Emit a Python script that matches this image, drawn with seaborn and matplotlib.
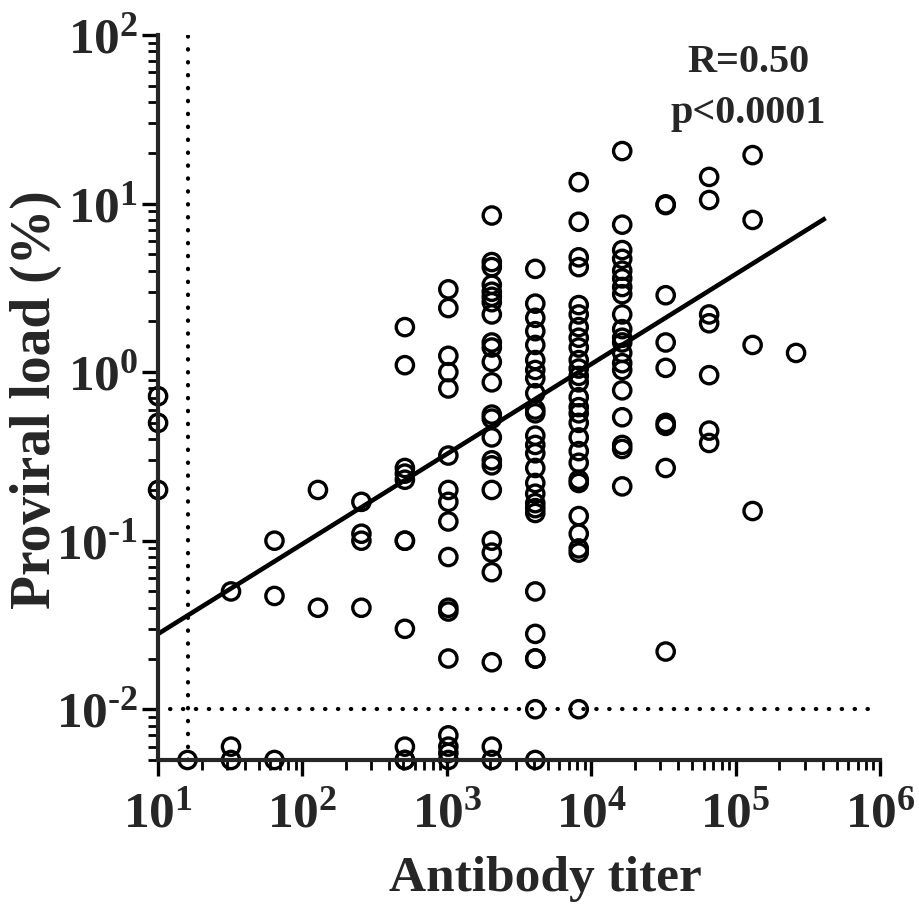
import numpy as np
import pandas as pd
import matplotlib
matplotlib.use("Agg")
import matplotlib.pyplot as plt
import seaborn as sns
from matplotlib.ticker import LogLocator, FixedFormatter, FixedLocator, NullFormatter

# antibody titers (x) and the proviral loads (%) read for each titer
titers = [10, 16, 32, 64, 128, 256, 512, 1024, 2048, 4096, 8192,
          16384, 32768, 65536, 131072, 262144]

load_10 = [0.72, 0.5, 0.2]
load_16 = [0.005]
load_32 = [0.05, 0.006, 0.005]
load_64 = [0.1, 0.047, 0.005]
load_128 = [0.2, 0.04]
load_256 = [0.17, 0.11, 0.1, 0.04]
load_512 = [1.85, 1.1, 0.27, 0.25, 0.23, 0.1, 0.1, 0.03, 0.006, 0.005, 0.005]
load_1024 = [3.1, 2.4, 1.25, 1.0, 0.8, 0.32, 0.2, 0.17, 0.13, 0.08, 0.04, 0.038,
             0.02, 0.007, 0.006, 0.0055, 0.005]
load_2048 = [8.5, 4.5, 4.2, 3.3, 3.0, 2.8, 2.6, 2.2, 1.5, 1.4, 1.15, 0.87, 0.56,
             0.53, 0.41, 0.3, 0.28, 0.2, 0.1, 0.085, 0.065, 0.019, 0.006, 0.005]
load_4096 = [4.1, 2.55, 2.1, 1.75, 1.45, 1.18, 1.03, 0.92, 0.75, 0.6, 0.57, 0.42,
             0.37, 0.33, 0.27, 0.22, 0.19, 0.167, 0.156, 0.146, 0.05, 0.028,
             0.02, 0.02, 0.01, 0.005]
load_8192 = [13.4, 7.8, 4.8, 4.2, 2.5, 2.2, 1.85, 1.6, 1.4, 1.18, 1.05, 0.95,
             0.87, 0.71, 0.62, 0.57, 0.5, 0.41, 0.34, 0.29, 0.23, 0.22, 0.14,
             0.11, 0.09, 0.085, 0.01]
load_16384 = [20.5, 7.5, 5.3, 4.7, 4.0, 3.6, 3.2, 2.9, 2.2, 1.8, 1.6, 1.5, 1.3,
              1.13, 1.03, 0.78, 0.54, 0.37, 0.35, 0.21]
load_32768 = [9.8, 9.9, 2.86, 1.5, 1.06, 0.5, 0.48, 0.27, 0.022]
load_65536 = [14.4, 10.5, 2.2, 1.95, 0.96, 0.45, 0.38]
load_131072 = [19.4, 8.0, 1.45, 0.15]
load_262144 = [1.3]

loads = [load_10, load_16, load_32, load_64, load_128, load_256, load_512,
         load_1024, load_2048, load_4096, load_8192, load_16384, load_32768,
         load_65536, load_131072, load_262144]

# regression line ends and cut-off lines
fit_x = [10, 4.2e5]
fit_y = [0.028, 8.2]
cutoff_titer = 16
cutoff_load = 0.01

x_exps = [1, 2, 3, 4, 5, 6]
y_exps = [-2, -1, 0, 1, 2]

df = pd.DataFrame({
    "titer": np.repeat(titers, [len(v) for v in loads]),
    "load": np.concatenate(loads),
})

sns.set_style("ticks")
plt.rcParams["font.family"] = ["Liberation Serif", "DejaVu Serif"]
plt.rcParams["font.weight"] = "bold"
plt.rcParams["mathtext.fontset"] = "custom"
plt.rcParams["mathtext.rm"] = "Liberation Serif:bold"
plt.rcParams["mathtext.bf"] = "Liberation Serif:bold"


def exp_label(k):
    # hyphen instead of the long math minus, as in the original
    s = str(k).replace("-", r"\text{-}")
    return r"$\mathbf{10^{%s}}$" % s


fig = plt.figure(figsize=(9.19, 9.13), dpi=100)
ax = fig.add_axes([0.172, 0.1676, 0.7856, 0.794])

ax.set_xscale("log")
ax.set_yscale("log")
ax.set_xlim(10, 1e6)
ax.set_ylim(0.005, 100)

dot = (0, (0.1, 3.0))
ax.vlines(cutoff_titer, 0.005, 100, colors="black", linewidth=3.0,
          linestyles=[dot], capstyle="round", zorder=2)
ax.hlines(cutoff_load, 12, 8.6e5, colors="black", linewidth=3.0,
          linestyles=[dot], capstyle="round", zorder=2)

sns.lineplot(x=fit_x, y=fit_y, ax=ax, color="black", linewidth=3.3,
             solid_capstyle="butt", zorder=3)

sns.scatterplot(data=df, x="titer", y="load", ax=ax, marker="o", s=155,
                facecolor="none", edgecolor="black", linewidth=2.4,
                clip_on=False, zorder=4)

for side in ["top", "right"]:
    ax.spines[side].set_visible(False)
for side in ["left", "bottom"]:
    ax.spines[side].set_linewidth(3.0)
    ax.spines[side].set_zorder(5)

ax.xaxis.set_major_locator(FixedLocator([10.0 ** k for k in x_exps]))
ax.yaxis.set_major_locator(FixedLocator([10.0 ** k for k in y_exps]))
ax.xaxis.set_major_formatter(FixedFormatter([exp_label(k) for k in x_exps]))
ax.yaxis.set_major_formatter(FixedFormatter([exp_label(k) for k in y_exps]))
ax.xaxis.set_minor_locator(LogLocator(base=10, subs=np.arange(2, 10), numticks=20))
ax.yaxis.set_minor_locator(LogLocator(base=10, subs=np.arange(2, 10), numticks=20))
ax.xaxis.set_minor_formatter(NullFormatter())
ax.yaxis.set_minor_formatter(NullFormatter())

ax.tick_params(which="major", direction="out", length=11.5, width=2.4,
               labelsize=37, color="black")
ax.tick_params(which="minor", direction="out", length=7.5, width=2.0, color="black")
ax.tick_params(axis="x", which="major", pad=11)
ax.tick_params(axis="y", which="major", pad=3)

ax.set_xlabel("Antibody titer", fontsize=37, fontweight="bold")
ax.set_ylabel("Proviral load (%)", fontsize=40, fontweight="bold")
ax.xaxis.set_label_coords(0.536, -0.132)
ax.yaxis.set_label_coords(-0.133, 0.497)

fig.text(0.814, 0.932, "R=0.50", fontsize=29, fontweight="bold",
         ha="center", va="center")
fig.text(0.814, 0.876, "p<0.0001", fontsize=29, fontweight="bold",
         ha="center", va="center")

fig.savefig("out.png", dpi=100)
